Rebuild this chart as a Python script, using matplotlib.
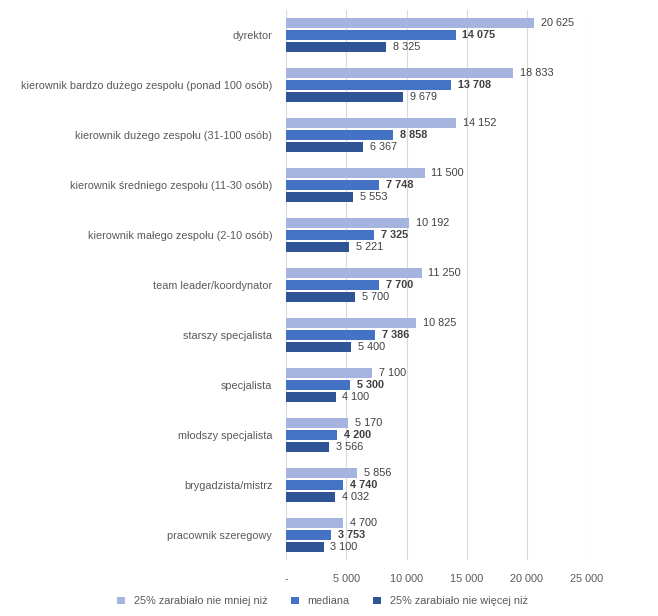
import numpy as np
import matplotlib.pyplot as plt
from matplotlib.ticker import FuncFormatter

plt.rcParams['font.family'] = ['Liberation Sans', 'DejaVu Sans']

categories = ['dyrektor',
              'kierownik bardzo dużego zespołu (ponad 100 osób)',
              'kierownik dużego zespołu (31-100 osób)',
              'kierownik średniego zespołu (11-30 osób)',
              'kierownik małego zespołu (2-10 osób)',
              'team leader/koordynator',
              'starszy specjalista',
              'specjalista',
              'młodszy specjalista',
              'brygadzista/mistrz',
              'pracownik szeregowy']
upper_q = [20625, 18833, 14152, 11500, 10192, 11250, 10825, 7100, 5170, 5856, 4700]
median = [14075, 13708, 8858, 7748, 7325, 7700, 7386, 5300, 4200, 4740, 3753]
lower_q = [8325, 9679, 6367, 5553, 5221, 5700, 5400, 4100, 3566, 4032, 3100]

series = [('25% zarabiało nie mniej niż', upper_q, '#A5B4DE', 'normal'),
          ('mediana', median, '#4472C4', 'bold'),
          ('25% zarabiało nie więcej niż', lower_q, '#2F5597', 'normal')]

def fmt(v):
    return f'{int(v):,}'.replace(',', ' ')

fig = plt.figure(figsize=(6.58, 6.16), dpi=100)
ax = fig.add_axes([0.435, 0.091, 0.457, 0.893])

y = np.arange(len(categories))
h = 0.2
step = 0.245
for i, (name, vals, col, weight) in enumerate(series):
    pos = y + (i - 1) * step
    ax.barh(pos, vals, height=h, color=col, label=name, zorder=3)
    for p, v in zip(pos, vals):
        ax.annotate(fmt(v), (v, p), xytext=(5, 0), textcoords='offset points',
                    va='center', ha='left', fontsize=7.8, color='#404040',
                    fontweight=weight)

ax.set_xlim(0, 25000)
ax.set_ylim(len(categories) - 0.5, -0.5)
ax.set_xticks(np.arange(0, 25001, 5000))
ax.xaxis.set_major_formatter(FuncFormatter(lambda x, _: '-' if x == 0 else fmt(x)))
ax.set_yticks(y)
ax.set_yticklabels(categories)
ax.tick_params(axis='both', length=0, labelsize=7.8, labelcolor='#595959')
ax.tick_params(axis='y', pad=10)
ax.tick_params(axis='x', pad=10)
ax.grid(axis='x', color='#D9D9D9', linewidth=0.8, zorder=0)
for s in ax.spines.values():
    s.set_visible(False)

# legenda na dole, wyśrodkowana
ax.legend(loc='lower center', ncol=3, frameon=False, fontsize=7.8,
          handlelength=0.7, handleheight=0.7, columnspacing=2.2, labelcolor='#595959')
ax.get_legend().set_bbox_to_anchor((0.49, 0.0), transform=fig.transFigure)

fig.savefig('out.png', dpi=100)
